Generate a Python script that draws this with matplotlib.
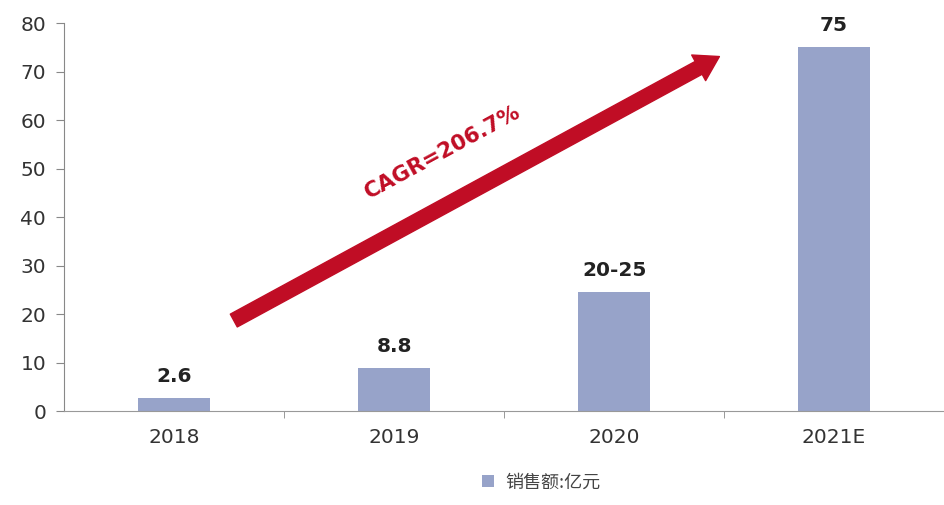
import matplotlib.pyplot as plt
from matplotlib.patches import FancyArrowPatch

years = ["2018", "2019", "2020", "2021E"]
sales = [2.6, 8.8, 24.5, 75]
labels = ["2.6", "8.8", "20-25", "75"]
legend_label = "销售额:亿元"
cagr_text = "CAGR=206.7%"

bar_color = "#97a3c9"
red = "#c00d25"

fig = plt.figure(figsize=(9.44, 5.05), dpi=100)
ax = fig.add_axes([0.068, 0.186, 0.932, 0.768])

x = range(len(years))
bars = ax.bar(x, sales, width=0.33, color=bar_color, label=legend_label, zorder=2)

for xi, v, lab in zip(x, sales, labels):
    ax.text(xi, v + 2.6, lab, ha="center", va="bottom", fontsize=14.5,
            fontweight="bold", family="DejaVu Sans", color="#222222")

ax.set_xlim(-0.5, 3.5)
ax.set_ylim(0, 80)
ax.set_yticks(range(0, 81, 10))
ax.set_xticks(list(x))
ax.set_xticklabels(years)
ax.set_xticks([0.5, 1.5, 2.5], minor=True)
ax.tick_params(axis="x", which="major", length=0, pad=12)
ax.tick_params(axis="x", which="minor", length=5, color="#888888")
ax.tick_params(axis="y", length=6, color="#888888", pad=7)
for t in ax.get_xticklabels() + ax.get_yticklabels():
    t.set_fontfamily("DejaVu Sans")
    t.set_fontsize(14.5)
    t.set_color("#333333")

for s in ["top", "right"]:
    ax.spines[s].set_visible(False)
ax.spines["left"].set_color("#888888")
ax.spines["bottom"].set_color("#999999")

# growth arrow
arrow = FancyArrowPatch((0.26, 18.4), (2.49, 73.4),
                        arrowstyle="simple,head_width=2.1,head_length=1.7,tail_width=1.05",
                        mutation_scale=10, color=red, zorder=3)
ax.add_patch(arrow)
ax.text(1.22, 53.5, cagr_text, rotation=28.5, ha="center", va="center",
        fontsize=15.5, fontweight="bold", color=red, family="DejaVu Sans",
        rotation_mode="anchor")

leg = fig.legend(loc="lower center", bbox_to_anchor=(0.573, -0.005), frameon=False,
                 handlelength=0.7, handleheight=0.7, handletextpad=0.6,
                 prop={"family": ["Noto Sans CJK SC", "DejaVu Sans"], "size": 13})
for t in leg.get_texts():
    t.set_color("#444444")

fig.savefig("out.png", dpi=100)
